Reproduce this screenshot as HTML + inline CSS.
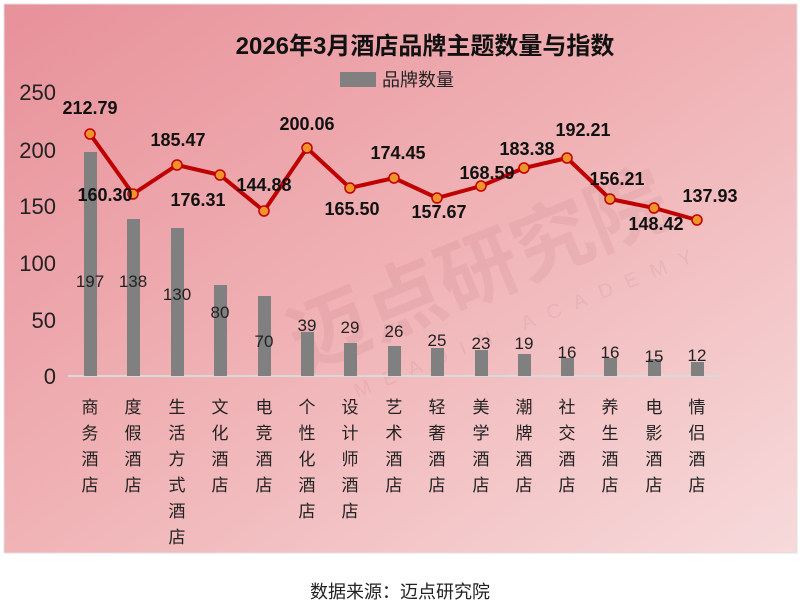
<!DOCTYPE html>
<html><head><meta charset="utf-8"><style>
body{margin:0;width:800px;height:612px;background:#fff;overflow:hidden;font-family:"Liberation Sans","Noto Sans CJK SC",sans-serif}
</style></head><body>
<svg width="800" height="612" xmlns="http://www.w3.org/2000/svg" style="position:absolute;left:0;top:0">
<defs><linearGradient id="g" x1="0" y1="0" x2="1" y2="1">
<stop offset="0" stop-color="#e8919a"/><stop offset="0.5" stop-color="#f0b3b6"/><stop offset="1" stop-color="#f7dadb"/></linearGradient></defs>
<rect x="4" y="4" width="793" height="549" fill="url(#g)" stroke="#e0e0e0"/>
<g font-family="Liberation Sans,Noto Sans CJK SC,sans-serif" opacity="0.09" fill="#a05060" transform="rotate(-22 470 250)">
<text x="270" y="300" font-size="80" font-weight="bold">迈点研究院</text>
<text x="310" y="345" font-size="20" letter-spacing="14">MEADIN ACADEMY</text>
</g>
<text x="425" y="54" text-anchor="middle" font-size="24" font-weight="bold" fill="#111">2026年3月酒店品牌主题数量与指数</text>
<rect x="340" y="72" width="36" height="15" fill="#808080"/>
<text x="382" y="86" font-size="18" fill="#222">品牌数量</text>
<g font-size="22" fill="#222" text-anchor="end">
<text x="56" y="100">250</text><text x="56" y="158">200</text><text x="56" y="214">150</text><text x="56" y="271">100</text><text x="56" y="328">50</text><text x="56" y="384">0</text>
</g>
<line x1="68" y1="376" x2="720" y2="376" stroke="#d9d9d9" stroke-width="2"/>
<g fill="#808080">
<rect x="84" y="152" width="13" height="224"/><rect x="127" y="219" width="13" height="157"/><rect x="171" y="228" width="13" height="148"/>
<rect x="214" y="285" width="13" height="91"/><rect x="258" y="296" width="13" height="80"/><rect x="301" y="332" width="13" height="44"/>
<rect x="344" y="343" width="13" height="33"/><rect x="388" y="346" width="13" height="30"/><rect x="431" y="348" width="13" height="28"/>
<rect x="475" y="350" width="13" height="26"/><rect x="518" y="354" width="13" height="22"/><rect x="561" y="358" width="13" height="18"/>
<rect x="604" y="358" width="13" height="18"/><rect x="648" y="359" width="13" height="17"/><rect x="691" y="362" width="13" height="14"/>
</g>
<g font-size="17" fill="#222" text-anchor="middle">
<text x="90" y="287">197</text><text x="133" y="287">138</text><text x="177" y="300">130</text><text x="220" y="318">80</text><text x="264" y="347">70</text>
<text x="307" y="331">39</text><text x="350" y="333">29</text><text x="394" y="337">26</text><text x="437" y="346">25</text><text x="481" y="349">23</text>
<text x="524" y="349">19</text><text x="567" y="358">16</text><text x="610" y="358">16</text><text x="654" y="362">15</text><text x="697" y="361">12</text>
</g>
<polyline fill="none" stroke="#c00000" stroke-width="4" points="90,134 133,194 177,165 220,175 264,211 307,148 350,188 394,178 437,198 481,186 524,168 567,158 610,199 654,208 697,220"/>
<g fill="#f0932b" stroke="#c00000" stroke-width="1.5">
<circle cx="90" cy="134" r="5"/><circle cx="133" cy="194" r="5"/><circle cx="177" cy="165" r="5"/><circle cx="220" cy="175" r="5"/><circle cx="264" cy="211" r="5"/>
<circle cx="307" cy="148" r="5"/><circle cx="350" cy="188" r="5"/><circle cx="394" cy="178" r="5"/><circle cx="437" cy="198" r="5"/><circle cx="481" cy="186" r="5"/>
<circle cx="524" cy="168" r="5"/><circle cx="567" cy="158" r="5"/><circle cx="610" cy="199" r="5"/><circle cx="654" cy="208" r="5"/><circle cx="697" cy="220" r="5"/>
</g>
<g font-size="18" font-weight="bold" fill="#111" text-anchor="middle">
<text x="90" y="114">212.79</text><text x="105" y="201">160.30</text><text x="178" y="146">185.47</text><text x="198" y="206">176.31</text><text x="264" y="191">144.88</text>
<text x="307" y="130">200.06</text><text x="352" y="215">165.50</text><text x="398" y="159">174.45</text><text x="439" y="218">157.67</text><text x="487" y="179">168.59</text>
<text x="527" y="155">183.38</text><text x="583" y="136">192.21</text><text x="617" y="185">156.21</text><text x="656" y="230">148.42</text><text x="710" y="202">137.93</text>
</g>
<g font-size="17" fill="#222" text-anchor="middle">
<text x="90" y="413">商</text><text x="90" y="439">务</text><text x="90" y="465">酒</text><text x="90" y="491">店</text>
<text x="133" y="413">度</text><text x="133" y="439">假</text><text x="133" y="465">酒</text><text x="133" y="491">店</text>
<text x="177" y="413">生</text><text x="177" y="439">活</text><text x="177" y="465">方</text><text x="177" y="491">式</text><text x="177" y="517">酒</text><text x="177" y="543">店</text>
<text x="220" y="413">文</text><text x="220" y="439">化</text><text x="220" y="465">酒</text><text x="220" y="491">店</text>
<text x="264" y="413">电</text><text x="264" y="439">竞</text><text x="264" y="465">酒</text><text x="264" y="491">店</text>
<text x="307" y="413">个</text><text x="307" y="439">性</text><text x="307" y="465">化</text><text x="307" y="491">酒</text><text x="307" y="517">店</text>
<text x="350" y="413">设</text><text x="350" y="439">计</text><text x="350" y="465">师</text><text x="350" y="491">酒</text><text x="350" y="517">店</text>
<text x="394" y="413">艺</text><text x="394" y="439">术</text><text x="394" y="465">酒</text><text x="394" y="491">店</text>
<text x="437" y="413">轻</text><text x="437" y="439">奢</text><text x="437" y="465">酒</text><text x="437" y="491">店</text>
<text x="481" y="413">美</text><text x="481" y="439">学</text><text x="481" y="465">酒</text><text x="481" y="491">店</text>
<text x="524" y="413">潮</text><text x="524" y="439">牌</text><text x="524" y="465">酒</text><text x="524" y="491">店</text>
<text x="567" y="413">社</text><text x="567" y="439">交</text><text x="567" y="465">酒</text><text x="567" y="491">店</text>
<text x="610" y="413">养</text><text x="610" y="439">生</text><text x="610" y="465">酒</text><text x="610" y="491">店</text>
<text x="654" y="413">电</text><text x="654" y="439">影</text><text x="654" y="465">酒</text><text x="654" y="491">店</text>
<text x="697" y="413">情</text><text x="697" y="439">侣</text><text x="697" y="465">酒</text><text x="697" y="491">店</text>
</g>
<text x="400" y="598" text-anchor="middle" font-size="18" fill="#222">数据来源：迈点研究院</text>
</svg>
</body></html>
